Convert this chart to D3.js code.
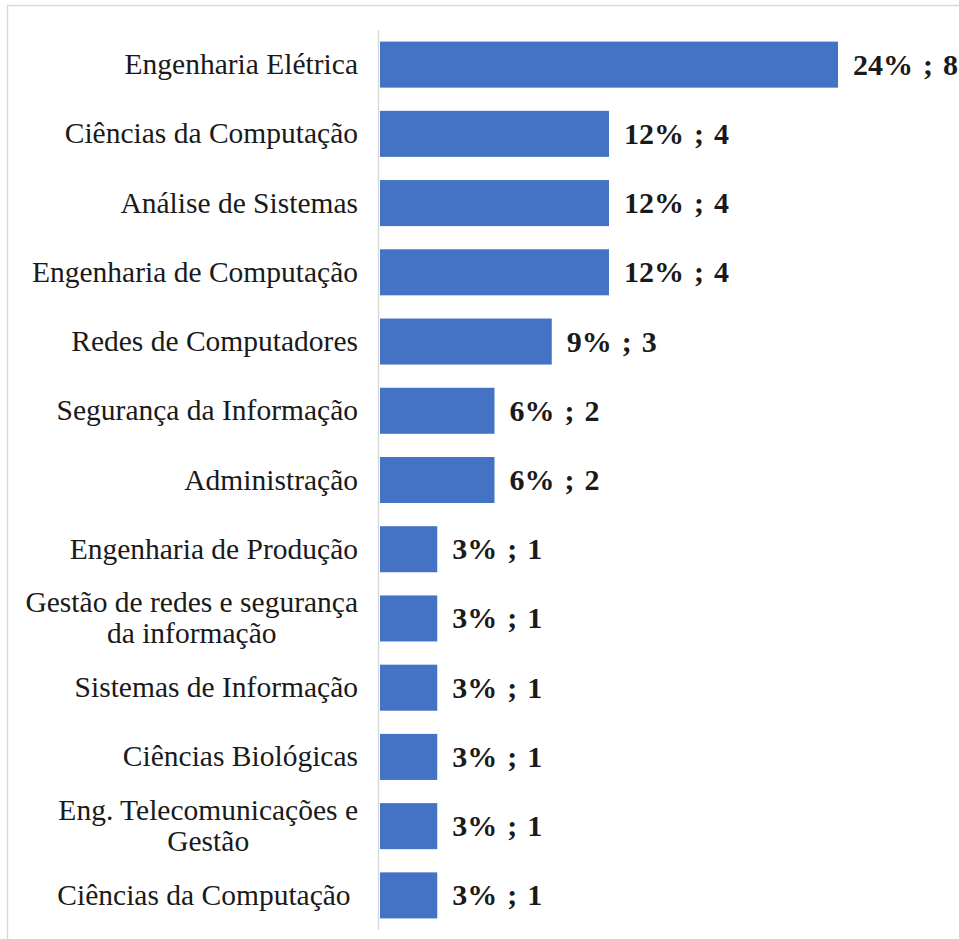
<!DOCTYPE html>
<html>
<head>
<meta charset="utf-8">
<script src="https://cdn.jsdelivr.net/npm/d3@7"></script>
<style>
  html, body { margin: 0; padding: 0; background: #fff; }
  svg { display: block; }
</style>
</head>
<body>
<svg id="chart" width="959" height="939"></svg>
<script>
const categories = [
  ["Engenharia Elétrica"],
  ["Ciências da Computação"],
  ["Análise de Sistemas"],
  ["Engenharia de Computação"],
  ["Redes de Computadores"],
  ["Segurança da Informação"],
  ["Administração"],
  ["Engenharia de Produção"],
  ["Gestão de redes e segurança", "da informação"],
  ["Sistemas de Informação"],
  ["Ciências Biológicas"],
  ["Eng. Telecomunicações e", "Gestão"],
  ["Ciências da Computação "]
];
const counts = [8, 4, 4, 4, 3, 2, 2, 1, 1, 1, 1, 1, 1];
const percents = [24, 12, 12, 12, 9, 6, 6, 3, 3, 3, 3, 3, 3];

const svg = d3.select("#chart");
const W = 959, H = 939;
const fontFam = "'Liberation Serif', 'Times New Roman', serif";

// outer frame
svg.append("path")
  .attr("d", `M7.5,${H} V5.5 H${W}`)
  .attr("fill", "none")
  .attr("stroke", "#d9d9d9")
  .attr("stroke-width", 1.5);

const x0 = 380, plotTop = 30, plotBottom = 930;
const ids = categories.map((d, i) => i);
const y = d3.scaleBand().domain(ids).range([plotTop, plotBottom]).paddingInner(0.335).paddingOuter(0.1675);
const x = d3.scaleLinear().domain([0, 8]).range([x0, 838]);

// bars
svg.append("g").selectAll("rect")
  .data(ids)
  .join("rect")
  .attr("x", x(0))
  .attr("y", i => y(i))
  .attr("width", i => x(counts[i]) - x(0))
  .attr("height", y.bandwidth())
  .attr("fill", "#4472c4");

// axis line
svg.append("line")
  .attr("x1", 378.5).attr("x2", 378.5)
  .attr("y1", plotTop).attr("y2", plotBottom)
  .attr("stroke", "#d9d9d9").attr("stroke-width", 1.5);

// category labels
const labelX = 358;
const lab = svg.append("g").selectAll("text")
  .data(ids)
  .join("text")
  .attr("font-family", fontFam)
  .attr("font-size", 29.5)
  .attr("fill", "#1a1a1a")
  .style("white-space", "pre")
  .attr("text-anchor", "end");

lab.each(function(i) {
  const lines = categories[i];
  const t = d3.select(this);
  const cy = y(i) + y.bandwidth() / 2;
  if (lines.length === 1) {
    t.attr("x", labelX).attr("y", cy + 9.5).text(lines[0]);
  } else {
    t.attr("text-anchor", "middle");
    const tmp = t.append("tspan").text(lines[0]);
    const w = tmp.node().getComputedTextLength();
    tmp.remove();
    const cx = labelX - w / 2;
    t.append("tspan").attr("x", cx).attr("y", cy - 6).text(lines[0]);
    t.append("tspan").attr("x", cx).attr("y", cy + 25).text(lines[1]);
  }
});

// value labels
svg.append("g").selectAll("text")
  .data(ids)
  .join("text")
  .attr("font-family", fontFam)
  .attr("font-size", 30)
  .attr("font-weight", "bold")
  .attr("fill", "#1a1a1a")
  .attr("x", i => x(counts[i]) + 15)
  .attr("y", i => y(i) + y.bandwidth() / 2 + 10)
  .style("white-space", "pre")
  .style("word-spacing", "2.5px")
  .text(i => `${percents[i]}% ; ${counts[i]}`);
</script>
</body>
</html>
